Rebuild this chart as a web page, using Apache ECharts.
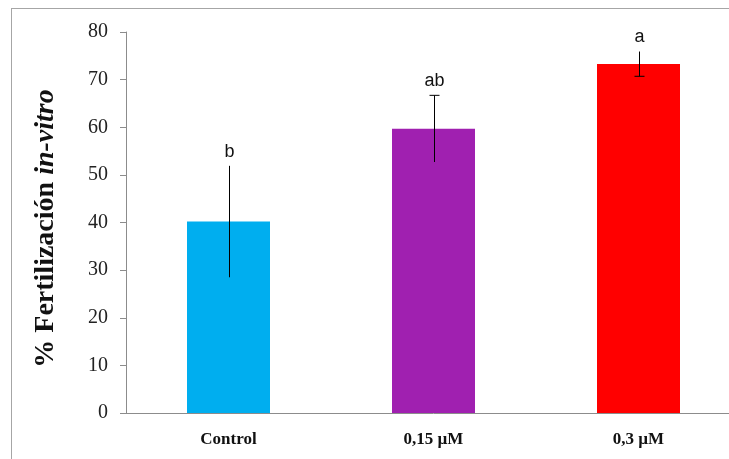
<!DOCTYPE html>
<html><head><meta charset="utf-8">
<script src="https://cdn.jsdelivr.net/npm/echarts@6/dist/echarts.min.js"></script>
<style>html,body{margin:0;padding:0;background:#fff;overflow:hidden;width:729px;height:459px;}#c{width:745px;height:459px;}
#frame{position:absolute;left:11px;top:8px;width:740px;height:470px;border:1px solid #a6a6a6;pointer-events:none;}</style>
</head><body><div id="c"></div><div id="frame"></div>
<script>
const categories = ['Control', '0,15 µM', '0,3 µM'];
const values = [40.2, 59.7, 73.3];
const errors = [11.7, 7.0, 2.6];
const letters = ['b', 'ab', 'a'];
const barColors = ['#00aeef', '#a020b0', '#ff0000'];
const yTicks = [0, 10, 20, 30, 40, 50, 60, 70, 80];
const topCap = [false, true, false];
const bottomCap = [false, false, true];

const chart = echarts.init(document.getElementById('c'));
chart.setOption({
  animation: false,
  grid: { left: 126, right: 4, top: 32, bottom: 46 },
  xAxis: {
    type: 'category', data: categories,
    axisLine: { lineStyle: { color: '#8c8c8c', width: 1 } },
    axisTick: { show: false },
    axisLabel: { fontFamily: 'Liberation Serif', fontWeight: 'bold', fontSize: 17, color: '#111', margin: 18 }
  },
  yAxis: {
    type: 'value', min: yTicks[0], max: yTicks[yTicks.length - 1], interval: 10,
    name: '{n|% Fertilización }{i|in-vitro}', nameLocation: 'middle', nameGap: 66, nameRotate: 90,
    nameTextStyle: { padding: [0, 12, 0, 0], rich: {
      n: { fontFamily: 'Liberation Serif', fontWeight: 'bold', fontSize: 28, color: '#111' },
      i: { fontFamily: 'Liberation Serif', fontWeight: 'bold', fontStyle: 'italic', fontSize: 28, color: '#111' }
    } },
    axisLine: { show: true, lineStyle: { color: '#8c8c8c', width: 1 } },
    axisTick: { show: true, length: 6, lineStyle: { color: '#8c8c8c' } },
    splitLine: { show: false },
    axisLabel: { fontFamily: 'Liberation Serif', fontSize: 20, color: '#222', margin: 18 }
  },
  series: [
    {
      type: 'bar', barWidth: 83,
      data: values.map((v, i) => ({ value: v, itemStyle: { color: barColors[i] } }))
    },
    {
      type: 'custom',
      data: values.map((v, i) => [i, v, errors[i]]),
      renderItem: function (params, api) {
        const i = params.dataIndex;
        const x = api.value(0), v = api.value(1), e = api.value(2);
        const top = api.coord([x, v + e]);
        const bot = api.coord([x, v - e]);
        const hw = 5;
        const ls = { stroke: '#000', lineWidth: 1 };
        const cx = Math.round(top[0]) + 0.5;
        const children = [
          { type: 'line', shape: { x1: cx, y1: top[1], x2: cx, y2: bot[1] }, style: ls }
        ];
        if (topCap[i]) children.push({ type: 'line', shape: { x1: cx - hw, y1: top[1], x2: cx + hw, y2: top[1] }, style: ls });
        if (bottomCap[i]) children.push({ type: 'line', shape: { x1: cx - hw, y1: bot[1], x2: cx + hw, y2: bot[1] }, style: ls });
        children.push({ type: 'text', x: cx, y: top[1] - 5,
          style: { text: letters[i], fontFamily: 'Liberation Sans', fontSize: 18, fill: '#111',
                   align: 'center', verticalAlign: 'bottom' } });
        return { type: 'group', children: children };
      },
      z: 5
    }
  ]
});
</script></body></html>
